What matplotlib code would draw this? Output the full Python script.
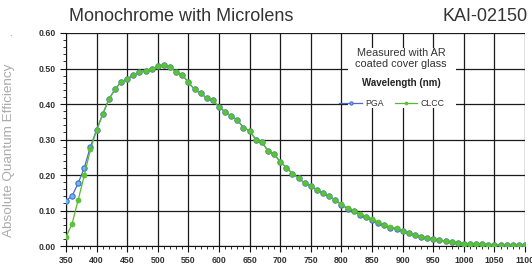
import matplotlib
matplotlib.use("Agg")
import matplotlib.pyplot as plt
from matplotlib.patches import Rectangle
from matplotlib.ticker import MultipleLocator, FormatStrFormatter

plt.rcParams["font.family"] = ["Liberation Sans", "DejaVu Sans"]

# wavelength in nm, one point every 10 nm
wavelength = list(range(350, 1110, 10))

pga = [0.128, 0.141, 0.177, 0.221, 0.280, 0.327, 0.371, 0.413, 0.441, 0.462,
       0.471, 0.481, 0.490, 0.494, 0.499, 0.506, 0.509, 0.504, 0.490, 0.482,
       0.461, 0.441, 0.430, 0.417, 0.410, 0.392, 0.378, 0.366, 0.355, 0.333,
       0.325, 0.300, 0.293, 0.268, 0.259, 0.237, 0.221, 0.204, 0.192, 0.177,
       0.169, 0.158, 0.148, 0.140, 0.129, 0.116, 0.105, 0.098, 0.088, 0.081,
       0.073, 0.065, 0.058, 0.052, 0.049, 0.042, 0.036, 0.031, 0.026, 0.023,
       0.019, 0.016, 0.013, 0.011, 0.009, 0.007, 0.006, 0.005, 0.005, 0.004,
       0.003, 0.003, 0.002, 0.002, 0.002, 0.002]

clcc = [0.025, 0.063, 0.130, 0.200, 0.272, 0.327, 0.371, 0.413, 0.441, 0.462,
        0.471, 0.481, 0.490, 0.494, 0.499, 0.506, 0.509, 0.504, 0.490, 0.482,
        0.461, 0.441, 0.430, 0.417, 0.410, 0.392, 0.378, 0.366, 0.355, 0.333,
        0.325, 0.300, 0.293, 0.268, 0.259, 0.237, 0.221, 0.204, 0.192, 0.177,
        0.169, 0.158, 0.148, 0.140, 0.129, 0.118, 0.107, 0.100, 0.090, 0.083,
        0.075, 0.067, 0.059, 0.053, 0.050, 0.043, 0.036, 0.031, 0.026, 0.023,
        0.019, 0.016, 0.013, 0.011, 0.009, 0.007, 0.006, 0.005, 0.005, 0.004,
        0.003, 0.003, 0.002, 0.002, 0.002, 0.002]

fig = plt.figure(figsize=(5.32, 2.64), dpi=100)
ax = fig.add_axes([0.124, 0.068, 0.863, 0.807])

ax.plot(wavelength, pga, color="#4a68cc", lw=0.9, marker="o", ms=3.8,
        mfc="#62c0e6", mec="#4a68cc", mew=0.8, label="PGA", zorder=3)
ax.plot(wavelength, clcc, color="#52bd2e", lw=0.9, marker="o", ms=3.6,
        mfc="#5cc23a", mec="#52bd2e", mew=0.5, label="CLCC", zorder=4)

ax.set_xlim(350, 1100)
ax.set_ylim(0, 0.6)
ax.xaxis.set_major_locator(MultipleLocator(50))
ax.xaxis.set_minor_locator(MultipleLocator(10))
ax.yaxis.set_major_locator(MultipleLocator(0.1))
ax.yaxis.set_minor_locator(MultipleLocator(0.02))
ax.yaxis.set_major_formatter(FormatStrFormatter("%.2f"))

ax.set_axisbelow(True)
ax.grid(True, which="major", color="#1a1a1a", lw=0.9)
for side in ["top", "right"]:
    ax.spines[side].set_visible(False)
ax.spines["left"].set_color("#111111")
ax.spines["bottom"].set_color("#111111")

ax.tick_params(which="major", length=4, width=0.8, color="#111111",
               labelsize=6.3, labelcolor="#333333", pad=3)
ax.tick_params(which="minor", length=2, width=0.6, color="#111111")
for lbl in ax.get_xticklabels() + ax.get_yticklabels():
    lbl.set_fontweight("bold")

ax.set_ylabel("Absolute Quantum Efficiency", fontsize=9.7, color="#ababab")
ax.yaxis.set_label_coords(-0.111, 0.45)

# white panel behind the notes and legend
ax.add_patch(Rectangle((0.614, 0.648), 0.236, 0.282, transform=ax.transAxes,
                       facecolor="white", edgecolor="none", zorder=1))
ax.text(0.73, 0.905, "Measured with AR", transform=ax.transAxes,
        ha="center", va="center", fontsize=7.8, color="#333333", zorder=6)
ax.text(0.73, 0.855, "coated cover glass", transform=ax.transAxes,
        ha="center", va="center", fontsize=7.8, color="#333333", zorder=6)
ax.text(0.73, 0.764, "Wavelength (nm)", transform=ax.transAxes,
        ha="center", va="center", fontsize=7, fontweight="bold",
        color="#222222", zorder=6)
leg = ax.legend(loc="center", bbox_to_anchor=(0.71, 0.671), ncol=2,
                frameon=False, fontsize=6.3, handlelength=2.6,
                handletextpad=0.4, columnspacing=1.2, markerscale=0.6)
leg.set_zorder(6)
for t in leg.get_texts():
    t.set_color("#333333")

fig.text(0.13, 0.9375, "Monochrome with Microlens", fontsize=13,
         color="#333333", ha="left", va="center")
fig.text(0.992, 0.9375, "KAI-02150", fontsize=13, color="#333333",
         ha="right", va="center")
fig.text(0.019, 0.865, ".", fontsize=7, color="#888888", ha="center")

fig.savefig("out.png", dpi=100)
